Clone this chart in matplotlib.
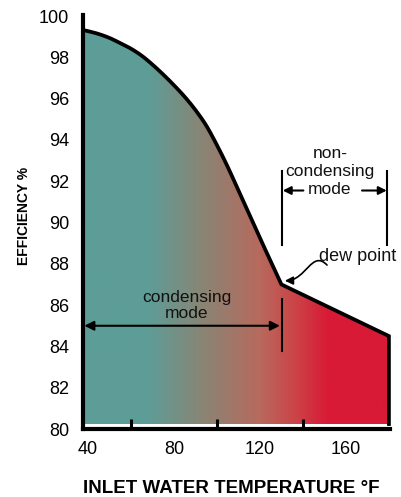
import numpy as np
import matplotlib
matplotlib.use("Agg")
import matplotlib.pyplot as plt
from matplotlib.colors import LinearSegmentedColormap, to_rgb
from matplotlib.patches import Polygon, FancyArrowPatch
from matplotlib.path import Path

plt.rcParams['font.family'] = ['Liberation Sans', 'DejaVu Sans']

# Data
inlet_temp = [37.8, 40, 45, 50, 55, 60, 65, 70, 75, 80, 85, 90, 95, 100, 105, 110, 115, 120, 125, 130, 180]
efficiency = [99.32, 99.27, 99.13, 98.94, 98.69, 98.42, 98.08, 97.65, 97.17, 96.65, 96.09, 95.45, 94.70,
              93.75, 92.70, 91.55, 90.40, 89.25, 88.12, 87.0, 84.5]
x_tick_labels = [40, 80, 120, 160]
x_minor_ticks = [60, 80, 100, 120, 140, 160]
y_tick_labels = [80, 82, 84, 86, 88, 90, 92, 94, 96, 98, 100]
y_minor_ticks = [82, 84, 86, 88, 90, 92, 94, 96, 98]

XMIN, XMAX = 37.7, 180.5
YMIN, YMAX = 80.24, 100.05


def catmull_rom(xs, ys, n=12):
    """Smooth drawing path through the given points (passes through every point)."""
    P = np.column_stack([xs, ys]).astype(float)
    P = np.vstack([2 * P[0] - P[1], P, 2 * P[-1] - P[-2]])
    out = []
    t = np.linspace(0, 1, n, endpoint=False)[:, None]
    for i in range(1, len(P) - 2):
        p0, p1, p2, p3 = P[i - 1], P[i], P[i + 1], P[i + 2]
        seg = 0.5 * ((2 * p1) + (-p0 + p2) * t + (2 * p0 - 5 * p1 + 4 * p2 - p3) * t ** 2
                     + (-p0 + 3 * p1 - 3 * p2 + p3) * t ** 3)
        out.append(seg)
    out.append(P[-2][None, :])
    out = np.vstack(out)
    return out[:, 0], out[:, 1]


cx, cy = catmull_rom(inlet_temp[:-1], efficiency[:-1])
px = list(cx) + [inlet_temp[-1]]
py = list(cy) + [efficiency[-1]]

fig = plt.figure(figsize=(4.01, 4.97), dpi=100)
ax = fig.add_axes([83/401, 1-429/497, (390-83)/401, (429-15)/497])
ax.set_xlim(XMIN, XMAX)
ax.set_ylim(YMIN, YMAX)

# gradient fill
stops = [(38, '#5D9D97'), (68, '#5E9D97'), (92, '#878676'), (120, '#B76A5D'),
         (136, '#CB4548'), (152, '#D81A36'), (180.5, '#D81A36')]
pos = [(s[0]-XMIN)/(XMAX-XMIN) for s in stops]
pos[0] = 0.0
pos[-1] = 1.0
cmap = LinearSegmentedColormap.from_list('g', list(zip(pos, [to_rgb(s[1]) for s in stops])))
grad = np.linspace(0, 1, 600).reshape(1, -1)
im = ax.imshow(grad, extent=[XMIN, XMAX, YMIN, YMAX], aspect='auto', cmap=cmap,
               origin='lower', zorder=1, interpolation='bilinear')
verts = list(zip(px, py)) + [(px[-1], YMIN), (px[0], YMIN)]
poly = Polygon(verts, closed=True, facecolor='none', edgecolor='none')
ax.add_patch(poly)
im.set_clip_path(poly)

# outline
ax.plot(px + [px[-1]], py + [YMIN], color='black', lw=2.7,
        solid_joinstyle='miter', zorder=3, clip_on=False)

# spines and ticks
for s in ['top', 'right']:
    ax.spines[s].set_visible(False)
for s in ['left', 'bottom']:
    ax.spines[s].set_linewidth(3)
    ax.spines[s].set_zorder(4)
ax.set_xticks(x_tick_labels)
ax.set_xticklabels([str(v) for v in x_tick_labels])
ax.set_xticks(x_minor_ticks, minor=True)
ax.set_yticks(y_tick_labels)
ax.set_yticklabels([str(v) for v in y_tick_labels])
ax.set_yticks(y_minor_ticks, minor=True)
ax.tick_params(which='major', length=0, labelsize=13, pad=10)
ax.tick_params(axis='x', which='major', pad=9)
ax.tick_params(which='minor', direction='in', length=7.5, width=2.2, color='black')
for t in ax.get_xticklabels(minor=True) + ax.get_yticklabels(minor=True):
    t.set_visible(False)

ax.set_xlabel('INLET WATER TEMPERATURE °F', fontsize=13.5, fontweight='bold')
ax.xaxis.set_label_coords((231 - 83) / 307, -(480 - 429) / 414)
ax.set_ylabel('EFFICIENCY %', fontsize=10, fontweight='bold')
ax.yaxis.set_label_coords(-(83 - 31) / 307, (429 - 216) / 414)

# condensing mode annotation
txt_kw = dict(fontsize=12.5, ha='center', va='center', color='#111111', zorder=6)
ax.text(86, 86.0, 'condensing\nmode', linespacing=1.1, **txt_kw)
ax.annotate('', xy=(38.3, 85.0), xytext=(129.3, 85.0),
            arrowprops=dict(arrowstyle='<|-|>', color='black', lw=1.5, mutation_scale=14,
                            shrinkA=0, shrinkB=0), zorder=6)
ax.plot([130.3, 130.3], [83.8, 86.3], color='black', lw=1.5, zorder=6)

# non-condensing mode annotation
ax.text(152.6, 92.49, 'non-\ncondensing\nmode', linespacing=1.25, **txt_kw)
ax.plot([130.3, 130.3], [88.9, 92.5], color='black', lw=1.5, zorder=6)
ax.plot([179.3, 179.3], [88.9, 92.5], color='black', lw=1.5, zorder=6)
ax.annotate('', xy=(130.6, 91.55), xytext=(140.2, 91.55),
            arrowprops=dict(arrowstyle='-|>', color='black', lw=1.5, mutation_scale=12,
                            shrinkA=0, shrinkB=0), zorder=6)
ax.annotate('', xy=(179.0, 91.55), xytext=(167.5, 91.55),
            arrowprops=dict(arrowstyle='-|>', color='black', lw=1.5, mutation_scale=12,
                            shrinkA=0, shrinkB=0), zorder=6)

# dew point annotation
ax.text(147.4, 88.35, 'dew point', fontsize=13, ha='left', va='center', color='#111111',
        zorder=6, clip_on=False)
p = Path([(151.2, 87.94), (144.2, 88.7), (141.5, 87.2), (131.6, 87.18)],
         [Path.MOVETO, Path.CURVE4, Path.CURVE4, Path.CURVE4])
arr = FancyArrowPatch(path=p, arrowstyle='-|>', mutation_scale=12, color='black', lw=1.2, zorder=6)
ax.add_patch(arr)

fig.savefig('out.png', dpi=100)
